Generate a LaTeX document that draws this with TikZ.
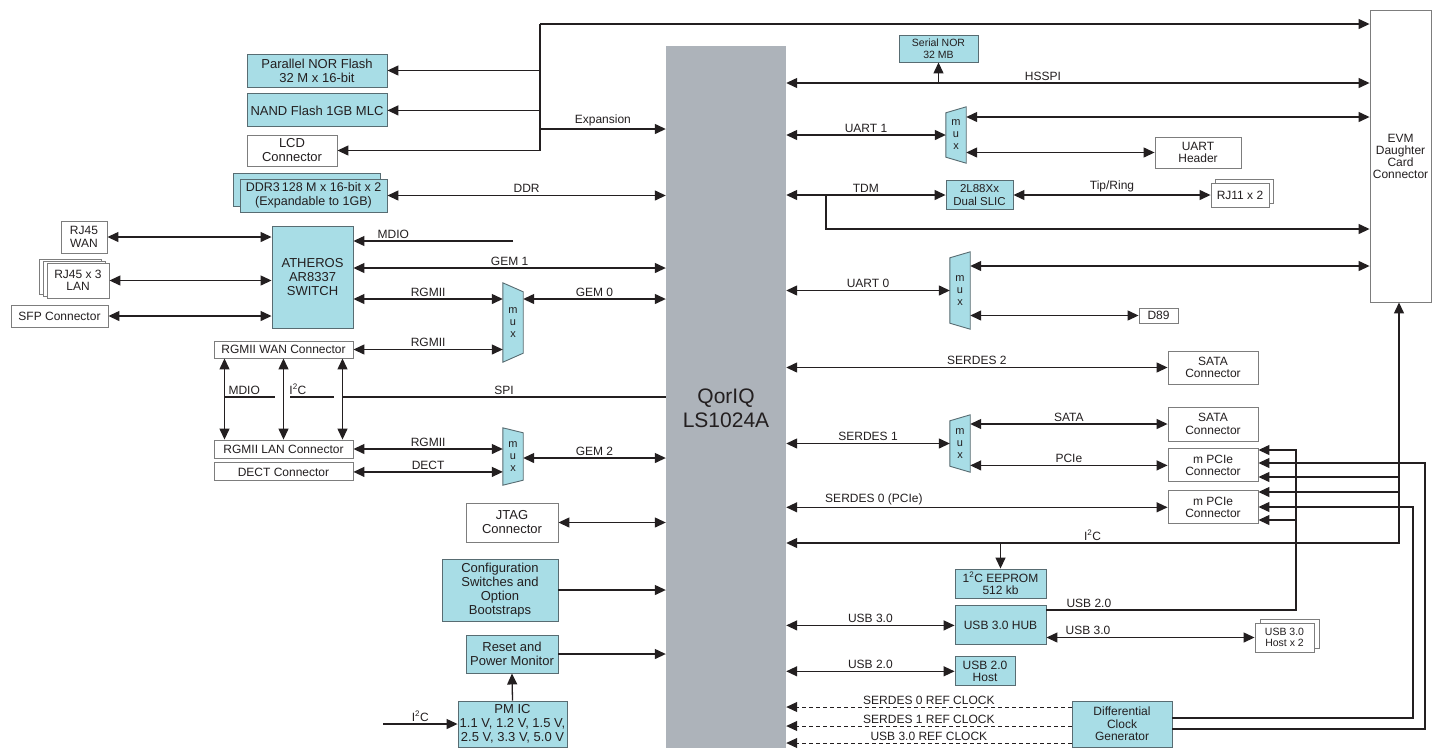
\documentclass[tikz,border=0pt]{standalone}
\usepackage{fontspec}
\setmainfont{Liberation Sans}
\usetikzlibrary{arrows.meta,positioning,calc,shadows,backgrounds}

\definecolor{chipgray}{RGB}{173,179,186}
\definecolor{boxcyan}{RGB}{168,221,230}
\definecolor{cyanline}{RGB}{88,108,114}
\definecolor{whiteline}{RGB}{125,125,125}
\definecolor{wire}{RGB}{35,31,32}

\begin{document}
\begin{tikzpicture}[x=1pt, y=-1pt,
    >={Triangle[length=11pt,width=10pt]},
    every node/.style={text=wire, font=\fontsize{12}{12.5}\selectfont, inner sep=1pt},
    cbox/.style={draw=cyanline, fill=boxcyan, line width=0.9pt, align=center},
    wbox/.style={draw=whiteline, fill=white, line width=0.9pt, align=center},
    big/.style={font=\fontsize{13}{14}\selectfont},
    small/.style={font=\fontsize{10.5}{11.5}\selectfont},
    mux/.style={minimum width=20pt, inner sep=0pt, align=center, font=\fontsize{11}{12}\selectfont},
    conn/.style={draw=wire, line width=1.3pt},
    clkline/.style={draw=wire, line width=1pt, dash pattern=on 4pt off 3pt},
    lbl/.style={above, inner sep=2pt},
  ]
\useasboundingbox (0,0) rectangle (1439,748);

% processor
\node[fill=chipgray, minimum width=120pt, minimum height=702pt, inner sep=0pt] (chip) at (726,397) {};
\node[font=\fontsize{21}{24}\selectfont, align=center] (chipname) at (726,408) {QorIQ\\LS1024A};

% left side
\node[cbox, big, minimum width=140pt, minimum height=33pt] (nor) at (317,70.5) {Parallel NOR Flash\\32 M x 16-bit};
\node[cbox, big, minimum width=140pt, minimum height=33pt, below=6pt of nor] (nand) {NAND Flash 1GB MLC};
\node[wbox, big, minimum width=90pt, minimum height=31pt] (lcd) at (292,150.5) {LCD\\Connector};
\node[cbox, font=\fontsize{12.5}{13.5}\selectfont, minimum width=147pt, minimum height=33pt,
      copy shadow={shadow xshift=-7pt, shadow yshift=6pt, fill=boxcyan, draw=cyanline}] (ddr) at (313.5,195.5) {DDR3\,128 M x 16-bit x 2\\(Expandable to 1GB)};
\node[wbox, minimum width=46pt, minimum height=32pt] (rjwan) at (84,237) {RJ45\\WAN};
\node[wbox, minimum width=62pt, minimum height=35pt,
      copy shadow={shadow xshift=-8pt, shadow yshift=4pt, fill=white, draw=whiteline},
      copy shadow={shadow xshift=-4pt, shadow yshift=2pt, fill=white, draw=whiteline}] (rjlan) at (78,280.5) {RJ45 x 3\\LAN};
\node[wbox, minimum width=97pt, minimum height=22pt] (sfp) at (59.5,316) {SFP Connector};
\node[cbox, big, minimum width=81pt, minimum height=102pt] (ath) at (312.5,277) {ATHEROS\\AR8337\\SWITCH};
\node[mux, minimum height=79pt] (mux1) at (513,322.5) {m\\u\\x};
\node[wbox, minimum width=139pt, minimum height=17pt] (rgwan) at (283.5,349.5) {RGMII WAN Connector};
\node[wbox, minimum width=139pt, minimum height=18pt] (rglan) at (283.5,449) {RGMII LAN Connector};
\node[wbox, minimum width=139pt, minimum height=18pt, below=4pt of rglan] (dect) {DECT Connector};
\node[mux, minimum height=57pt] (mux2) at (513,456.5) {m\\u\\x};
\node[wbox, big, minimum width=92pt, minimum height=39pt] (jtag) at (512,522.5) {JTAG\\Connector};
\node[cbox, big, minimum width=116pt, minimum height=62pt] (cfg) at (500,590) {Configuration\\Switches and\\Option\\Bootstraps};
\node[cbox, big, minimum width=92pt, minimum height=38pt] (rst) at (512,654) {Reset and\\Power Monitor};
\node[cbox, big, minimum width=109pt, minimum height=46pt] (pmic) at (512.5,724) {PM IC\\1.1 V, 1.2 V, 1.5 V,\\2.5 V, 3.3 V, 5.0 V};

% right side
\node[wbox, font=\fontsize{12}{12}\selectfont, minimum width=61pt, minimum height=292pt] (evm) at (1400.5,156) {EVM\\Daughter\\Card\\Connector};
\node[cbox, small, minimum width=79pt, minimum height=27pt] (snor) at (938.5,48.5) {Serial NOR\\32 MB};
\node[mux, minimum height=56pt] (mux3) at (956,135) {m\\u\\x};
\node[wbox, minimum width=86pt, minimum height=31pt] (uarth) at (1198,152.5) {UART\\Header};
\node[cbox, font=\fontsize{11.5}{12.5}\selectfont, minimum width=67pt, minimum height=29pt] (slic) at (979.5,195) {2L88Xx\\Dual SLIC};
\node[wbox, minimum width=58pt, minimum height=24pt,
      copy shadow={shadow xshift=4pt, shadow yshift=4pt, fill=white, draw=whiteline}] (rj11) at (1240,195) {RJ11 x 2};
\node[mux, minimum height=77pt] (mux4) at (960,290.5) {m\\u\\x};
\node[wbox, minimum width=39pt, minimum height=15pt] (d89) at (1158.5,315.5) {D89};
\node[wbox, minimum width=90pt, minimum height=33pt] (sata1) at (1213,367.5) {SATA\\Connector};
\node[mux, minimum height=57pt] (mux5) at (960,443.5) {m\\u\\x};
\node[wbox, minimum width=90pt, minimum height=34pt] (sata2) at (1213,424) {SATA\\Connector};
\node[wbox, minimum width=90pt, minimum height=33pt, below=7pt of sata2] (mpcie1) {m PCIe\\Connector};
\node[wbox, minimum width=90pt, minimum height=33pt, below=8pt of mpcie1] (mpcie2) {m PCIe\\Connector};
\node[cbox, minimum width=91pt, minimum height=29pt] (eeprom) at (1000.5,583.5) {1\textsuperscript{2}C EEPROM\\512 kb};
\node[cbox, minimum width=91pt, minimum height=39pt, below=7pt of eeprom] (hub) {USB 3.0 HUB};
\node[wbox, small, minimum width=59pt, minimum height=29pt,
      copy shadow={shadow xshift=5pt, shadow yshift=4pt, fill=white, draw=whiteline}] (usbh) at (1284.5,637.5) {USB 3.0\\Host x 2};
\node[cbox, minimum width=60pt, minimum height=29pt, below right=11pt and 0pt of hub.south west] (usb2h) {USB 2.0\\Host};
\node[cbox, minimum width=100pt, minimum height=46pt] (clk) at (1122,724) {Differential\\Clock\\Generator};

% mux outlines
\begin{scope}[on background layer]
  \fill[white] (0,0) rectangle (1439,748);
  \foreach \m/\s in {mux1/9,mux2/5}
    \draw[draw=cyanline, fill=boxcyan, line width=0.9pt] (\m.north west) -- ([yshift=-\s pt]\m.north east) -- ([yshift=\s pt]\m.south east) -- (\m.south west) -- cycle;
  \foreach \m/\s in {mux3/6,mux4/6,mux5/6}
    \draw[draw=cyanline, fill=boxcyan, line width=0.9pt] (\m.north east) -- ([yshift=-\s pt]\m.north west) -- ([yshift=\s pt]\m.south west) -- (\m.south east) -- cycle;
\end{scope}

% expansion bus
\coordinate (exptop) at (540,24);
\coordinate (expbot) at (540,150.5);
\draw[conn, ->] (exptop) -- (evm.west |- exptop);
\draw[conn] (exptop) -- (expbot);
\draw[conn, ->] (exptop |- nor.east) -- (nor.east);
\draw[conn, ->] (exptop |- nand.east) -- (nand.east);
\draw[conn, ->] (expbot) -- (lcd.east);
\draw[conn, ->] (exptop |- 0,129) -- node[lbl] (lexp) {Expansion} (chip.west |- 0,129);
\draw[conn, <->] (ddr.east) -- node[lbl] (lddr) {DDR} (chip.west |- ddr.east);

% ethernet
\coordinate (mdioend) at (513,241);
\draw[conn, ->] (mdioend) -- node[lbl, pos=0.75] (lmdio) {MDIO} (ath.east |- mdioend);
\draw[conn, <->] (rjwan.east) -- (ath.west |- rjwan.east);
\draw[conn, <->] (rjlan.east) -- (ath.west |- rjlan.east);
\draw[conn, <->] (sfp.east) -- (ath.west |- sfp.east);
\draw[conn, <->] (ath.east |- 0,268) -- node[lbl] (lgem1) {GEM 1} (chip.west |- 0,268);
\draw[conn, <->] (ath.east |- 0,299) -- node[lbl] (lrg1) {RGMII} (mux1.west |- 0,299);
\draw[conn, <->] (mux1.east |- 0,299) -- node[lbl] (lgem0) {GEM 0} (chip.west |- 0,299);
\draw[conn, <->] (rgwan.east) -- node[lbl] (lrg2) {RGMII} (mux1.west |- rgwan.east);
\foreach \dx in {-59,0,59}
  \draw[conn, <->] ([xshift=\dx pt]rgwan.south) -- ([xshift=\dx pt]rglan.north);
\coordinate (mdioa) at (224.5,397);
\coordinate (mdiob) at (275,397);
\coordinate (i2ca) at (290,397);
\coordinate (i2cb) at (334,397);
\coordinate (spia) at (342.5,397);
\draw[conn] (mdioa) -- node[lbl, pos=0.39] (lmdio2) {MDIO} (mdiob);
\draw[conn] (i2ca) -- node[lbl, pos=0.18] (li2c1) {I\textsuperscript{2}C} (i2cb);
\draw[conn] (spia) -- node[lbl] (lspi) {SPI} (chip.west |- spia);
\draw[conn, <->] (rglan.east) -- node[lbl] (lrg3) {RGMII} (mux2.west |- rglan.east);
\draw[conn, <->] (dect.east) -- node[lbl] (ldect) {DECT} (mux2.west |- dect.east);
\draw[conn, <->] (mux2.east |- 0,458) -- node[lbl] (lgem2) {GEM 2} (chip.west |- 0,458);

% control
\draw[conn, <->] (jtag.east) -- (chip.west |- jtag.east);
\draw[conn, ->] (cfg.east) -- (chip.west |- cfg.east);
\draw[conn, ->] (rst.east) -- (chip.west |- rst.east);
\draw[conn, ->] (pmic.north) -- (rst.south);
\coordinate (pmin) at (383,724);
\draw[conn, ->] (pmin) -- node[lbl] (li2c2) {I\textsuperscript{2}C} (pmic.west);

% right side links
\draw[conn, <->] (chip.east |- 0,83) -- node[lbl, pos=0.44] (lhsspi) {HSSPI} (evm.west |- 0,83);
\draw[conn, ->] (snor.south |- 0,83) -- (snor.south);
\draw[conn, <->] (chip.east |- mux3.west) -- node[lbl] (luart1) {UART 1} (mux3.west);
\draw[conn, <->] (mux3.east |- 0,117) -- (evm.west |- 0,117);
\draw[conn, <->] (mux3.east |- uarth.west) -- (uarth.west);
\draw[conn, <->] (chip.east |- slic.west) -- node[lbl] (ltdm) {TDM} (slic.west);
\coordinate (tdmbr) at (826,195);
\draw[conn, ->] (tdmbr) |- (evm.west |- 0,229);
\draw[conn, <->] (slic.east) -- node[lbl] (ltip) {Tip/Ring} (rj11.west);
\draw[conn, <->] (chip.east |- mux4.west) -- node[lbl] (luart0) {UART 0} (mux4.west);
\draw[conn, <->] (mux4.east |- 0,266) -- (evm.west |- 0,266);
\draw[conn, <->] (mux4.east |- d89.west) -- (d89.west);
\draw[conn, <->] (chip.east |- sata1.west) -- node[lbl] (lser2) {SERDES 2} (sata1.west);
\draw[conn, <->] (chip.east |- mux5.west) -- node[lbl] (lser1) {SERDES 1} (mux5.west);
\draw[conn, <->] (mux5.east |- sata2.west) -- node[lbl] (lsata) {SATA} (sata2.west);
\draw[conn, <->] (mux5.east |- mpcie1.west) -- node[lbl] (lpcie) {PCIe} (mpcie1.west);
\draw[conn, <->] (chip.east |- mpcie2.west) -- node[lbl, pos=0.23] (lser0) {SERDES 0 (PCIe)} (mpcie2.west);

% I2C bus
\coordinate (i2cbus) at (1399,543);
\draw[conn, <->] (chip.east |- i2cbus) -- node[lbl] (li2c3) {I\textsuperscript{2}C} (i2cbus) -- (evm.south -| i2cbus);
\draw[conn, ->] (i2cbus |- 0,477) -- (mpcie1.east |- 0,477);
\draw[conn, ->] (i2cbus |- 0,492) -- (mpcie2.east |- 0,492);
\draw[conn, ->] (eeprom.north |- i2cbus) -- (eeprom.north);

% USB
\coordinate (usbbus) at (1296,610);
\draw[conn, ->] (hub.east |- usbbus) -- node[lbl, pos=0.17] (lusb1) {USB 2.0} (usbbus) |- (mpcie1.east |- 0,450);
\draw[conn, ->] (usbbus |- 0,520) -- (mpcie2.east |- 0,520);
\draw[conn, <->] (chip.east |- hub.west) -- node[lbl] (lusb2) {USB 3.0} (hub.west);
\draw[conn, <->] (hub.east |- usbh.west) -- node[lbl, pos=0.2] (lusb3) {USB 3.0} (usbh.west);
\draw[conn, <->] (chip.east |- usb2h.west) -- node[lbl] (lusb4) {USB 2.0} (usb2h.west);

% clocks
\draw[clkline, ->] (clk.west |- 0,707) -- node[lbl] (lclk0) {SERDES 0 REF CLOCK} (chip.east |- 0,707);
\draw[clkline, ->] (clk.west |- 0,726) -- node[lbl] (lclk1) {SERDES 1 REF CLOCK} (chip.east |- 0,726);
\draw[clkline, ->] (clk.west |- 0,743) -- node[lbl] (lclk2) {USB 3.0 REF CLOCK} (chip.east |- 0,743);
\coordinate (clka) at (1413,718);
\coordinate (clkb) at (1425,729);
\draw[conn, ->] (clk.east |- clka) -- (clka) |- (mpcie2.east |- 0,507);
\draw[conn, ->] (clk.east |- clkb) -- (clkb) |- (mpcie1.east |- 0,463);
\end{tikzpicture}
\end{document}
